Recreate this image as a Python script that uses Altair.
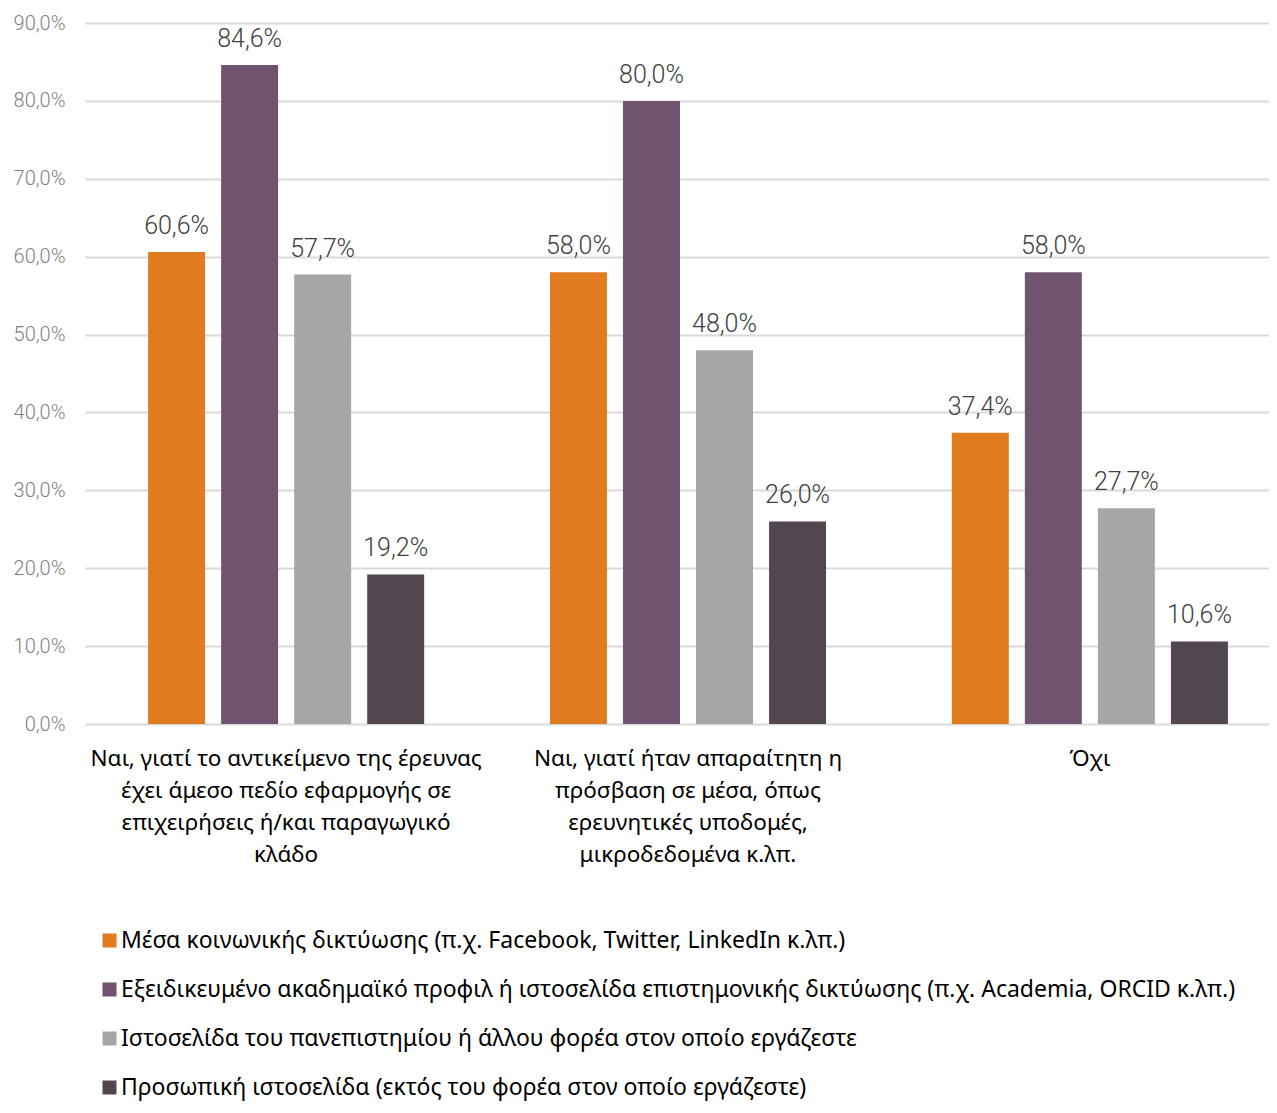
import altair as alt
import pandas as pd

categories = [
    "Ναι, γιατί το αντικείμενο της έρευνας|έχει άμεσο πεδίο εφαρμογής σε|επιχειρήσεις ή/και παραγωγικό|κλάδο",
    "Ναι, γιατί ήταν απαραίτητη η|πρόσβαση σε μέσα, όπως|ερευνητικές υποδομές,|μικροδεδομένα κ.λπ.",
    "Όχι",
]
series = [
    "Μέσα κοινωνικής δικτύωσης (π.χ. Facebook, Twitter, LinkedIn κ.λπ.)",
    "Εξειδικευμένο ακαδημαϊκό προφιλ ή ιστοσελίδα επιστημονικής δικτύωσης (π.χ. Academia, ORCID κ.λπ.)",
    "Ιστοσελίδα του πανεπιστημίου ή άλλου φορέα στον οποίο εργάζεστε",
    "Προσωπική ιστοσελίδα (εκτός του φορέα  στον οποίο εργάζεστε)",
]
values_s1 = [60.6, 58.0, 37.4]
values_s2 = [84.6, 80.0, 58.0]
values_s3 = [57.7, 48.0, 27.7]
values_s4 = [19.2, 26.0, 10.6]
colors = ["#E07B1F", "#70536E", "#A6A6A6", "#524650"]

rows = []
for s, vals in zip(series, [values_s1, values_s2, values_s3, values_s4]):
    for c, v in zip(categories, vals):
        rows.append({"cat": c, "series": s, "value": v,
                     "label": f"{v:.1f}".replace(".", ",") + "%"})
df = pd.DataFrame(rows)

x = alt.X("cat:N", sort=categories,
          scale=alt.Scale(range=[0, 1206], paddingInner=0.273, paddingOuter=0.137),
          axis=alt.Axis(title=None, labelExpr="split(datum.label, '|')", labelAngle=0,
                        labelFontSize=22.5, labelColor="#000000", labelFont="Noto Sans",
                        labelLineHeight=32, labelPadding=23, ticks=False, domain=False,
                        labelLimit=0, labelBaseline="top"))
xo = alt.XOffset("series:N", sort=series,
                 scale=alt.Scale(paddingInner=0.22, paddingOuter=0.11))
y = alt.Y("value:Q", scale=alt.Scale(domain=[0, 90], nice=False),
          axis=alt.Axis(title=None, values=list(range(0, 91, 10)),
                        labelExpr="replace(format(datum.value, '.1f'), '.', ',') + '%'",
                        labelFontSize=20, labelColor="#7F7F7F", labelFont="Roboto",
                        labelFontWeight=300, labelPadding=20, ticks=False, domain=False,
                        grid=True, gridColor="#D9D9D9", gridWidth=2))

bars = alt.Chart(df).mark_bar().encode(
    x=x, xOffset=xo, y=y,
    color=alt.Color("series:N", sort=series,
                    scale=alt.Scale(domain=series, range=colors),
                    legend=alt.Legend(title=None, orient="none", legendX=13, legendY=906,
                                      direction="vertical", labelFontSize=23,
                                      labelFont="Noto Sans", labelColor="#000000",
                                      symbolType="square", symbolSize=196,
                                      symbolStrokeWidth=0, rowPadding=25,
                                      labelOffset=0, labelLimit=0, symbolOpacity=1)),
)
texts = alt.Chart(df).mark_text(baseline="alphabetic", dy=-18, fontSize=25,
                                font="Roboto", fontWeight=300, color="#404040").encode(
    x=x, xOffset=xo, y=y, text="label:N"
)

chart = alt.layer(bars, texts).properties(
    width=1184, height=701,
    padding={"left": 77, "top": 15, "right": 0, "bottom": 377},
    autosize=alt.AutoSizeParams(type="none"),
).configure_view(stroke=None)

chart.save("out.html", embed_options={"renderer": "svg", "actions": False})
